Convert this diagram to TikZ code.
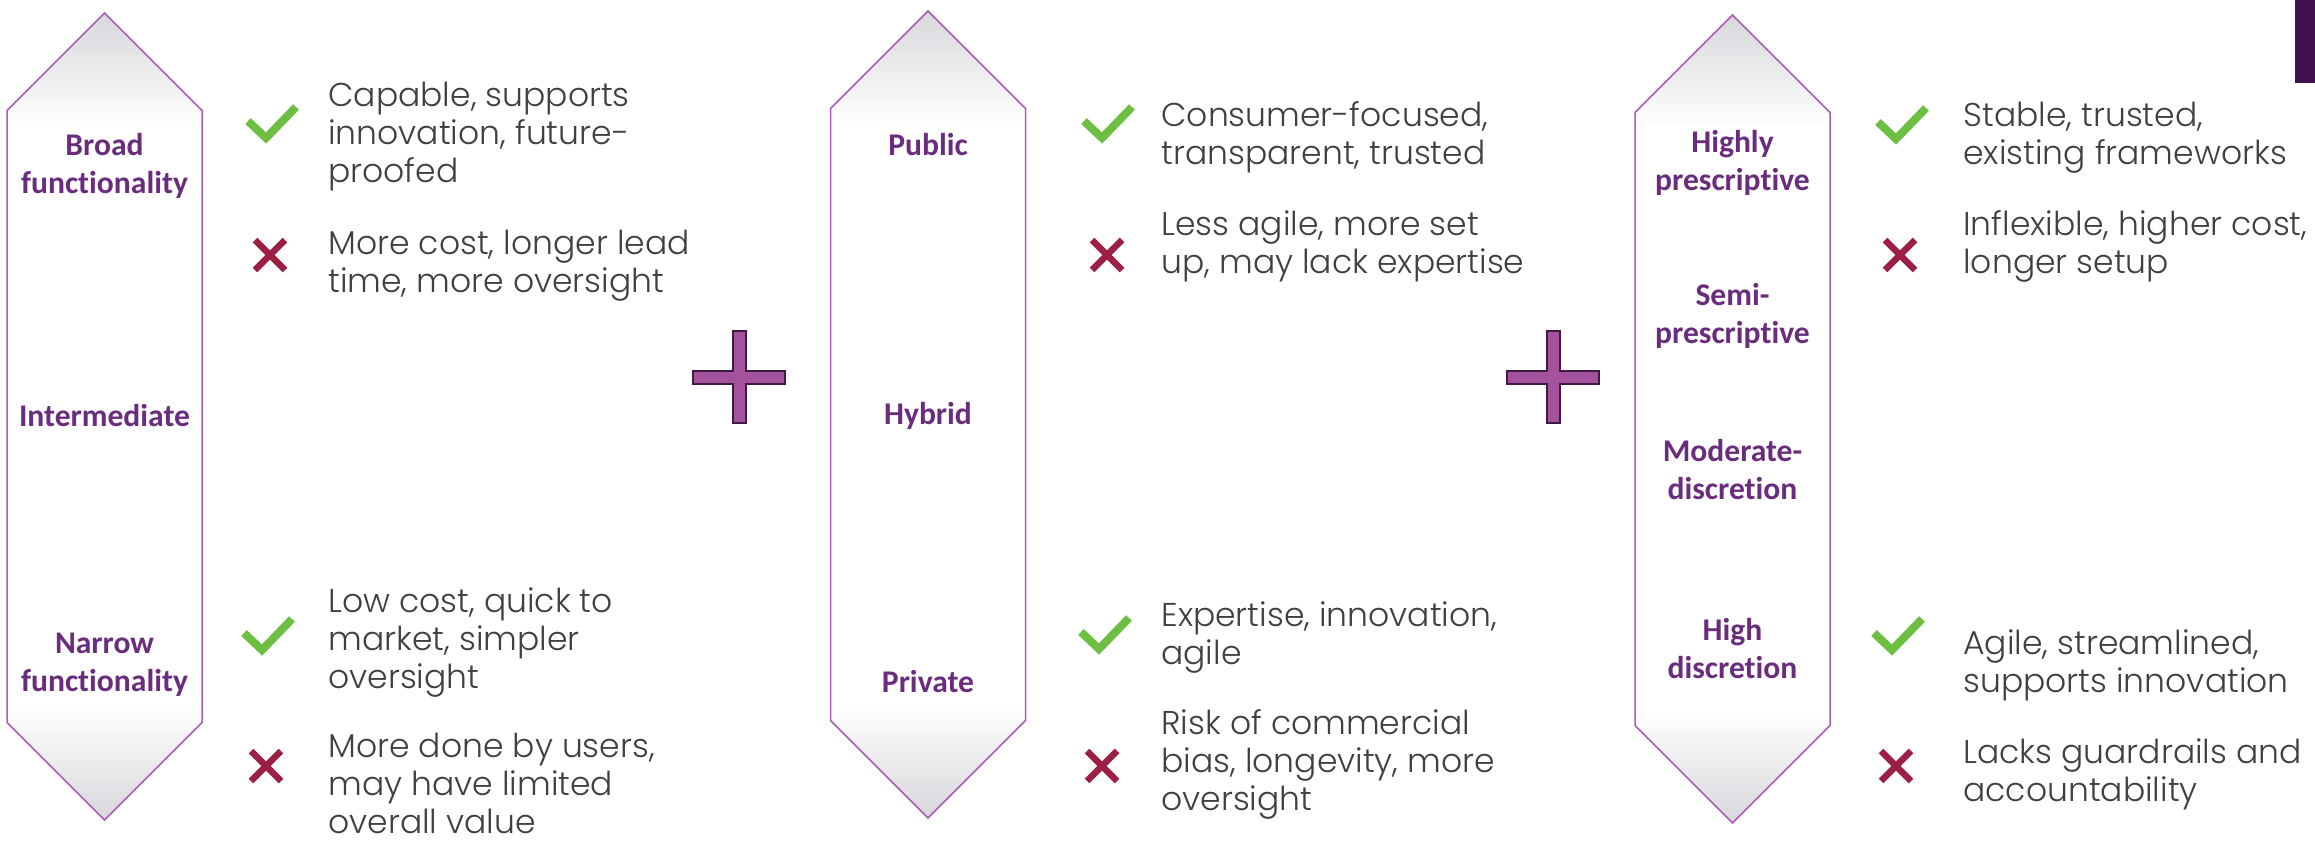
\documentclass[tikz,border=0pt]{standalone}
\usepackage{fontspec}
\setmainfont{Poppins}[UprightFont=* Light]
\newfontfamily\labelfont{Carlito}[Ligatures=NoCommon]
\definecolor{textgray}{HTML}{404040}
\definecolor{labelpurple}{HTML}{6A2C7C}
\definecolor{shapeline}{HTML}{A95DB5}
\definecolor{okgreen}{HTML}{6CBF40}
\definecolor{nored}{HTML}{9C1F44}
\definecolor{fadegray}{HTML}{D7D7DC}
\definecolor{plusfill}{HTML}{A4529E}
\definecolor{plusline}{HTML}{3F1A42}
\definecolor{barpurple}{HTML}{40104F}
\pgfdeclareverticalshading{arrowfade}{100bp}{color(0bp)=(fadegray); color(25bp)=(fadegray);
  color(32bp)=(white); color(68bp)=(white); color(75bp)=(fadegray); color(100bp)=(fadegray)}
\tikzset{
  gaugelabel/.style={font=\labelfont\bfseries\fontsize{15.8}{19}\selectfont, text=labelpurple, align=center, inner sep=0pt},
  prostext/.style={font=\fontsize{16.5}{19}\selectfont, text=textgray, align=left, anchor=base west, inner sep=0pt},
  okmark/.pic={\draw[okgreen, line width=4pt] (-18,-17) -- (0,0) -- (30,-31);},
  nomark/.pic={\draw[nored, line width=3.25pt] (-15,-15) -- (15,15) (-15,15) -- (15,-15);}
}
\begin{document}
\begin{tikzpicture}[x=0.5pt, y=-0.5pt]
  \useasboundingbox (0,0) rectangle (2315,841);
  % the three scales
  \foreach \cx/\ty/\by in {104.5/13/820, 928/11/818, 1732.5/15/823}
    \shadedraw[shading=arrowfade, draw=shapeline, line width=0.75pt]
      (\cx,\ty) -- (\cx+97.5,\ty+97.5) -- (\cx+97.5,\by-97.5) -- (\cx,\by)
      -- (\cx-97.5,\by-97.5) -- (\cx-97.5,\ty+97.5) -- cycle;
  % plus signs between them
  \foreach \px in {739, 1553}
    \filldraw[fill=plusfill, draw=plusline, line width=1pt]
      (\px-6.5,331) -- (\px+6.5,331) -- (\px+6.5,370.5) -- (\px+46,370.5) -- (\px+46,383.5)
      -- (\px+6.5,383.5) -- (\px+6.5,423) -- (\px-6.5,423) -- (\px-6.5,383.5)
      -- (\px-46,383.5) -- (\px-46,370.5) -- (\px-6.5,370.5) -- cycle;
  \fill[barpurple] (2295,0) rectangle (2315,83);

  % scale labels
  \node[gaugelabel] (broad) at (104.5,166) {Broad\\functionality};
  \node[gaugelabel] (inter) at (104.5,416) {Intermediate};
  \node[gaugelabel] (narrow) at (104.5,665) {Narrow\\functionality};
  \node[gaugelabel] (public) at (928,145) {Public};
  \node[gaugelabel] (hybrid) at (928,416) {Hybrid};
  \node[gaugelabel] (private) at (928,682) {Private};
  \node[gaugelabel] (highly) at (1732.5,163) {Highly\\prescriptive};
  \node[gaugelabel] (semi) at (1732.5,316) {Semi-\\prescriptive};
  \node[gaugelabel] (moderate) at (1732.5,470) {Moderate-\\discretion};
  \node[gaugelabel] (high) at (1732.5,649) {High\\discretion};

  % pros and cons (placed at the baseline of their last line)
  \pic at (266,138) {okmark};
  \node[prostext] (broadpro) at (328,182) {Capable, supports\\innovation, future-\\proofed};
  \pic at (270,255) {nomark};
  \node[prostext] (broadcon) at (328,292) {More cost, longer lead\\time, more oversight};
  \pic at (262,650) {okmark};
  \node[prostext] (narrowpro) at (328,688) {Low cost, quick to\\market, simpler\\oversight};
  \pic at (266,766) {nomark};
  \node[prostext] (narrowcon) at (328,833) {More done by users,\\may have limited\\overall value};

  \pic at (1102,138) {okmark};
  \node[prostext] (publicpro) at (1161,164) {Consumer-focused,\\transparent, trusted};
  \pic at (1107,255) {nomark};
  \node[prostext] (publiccon) at (1161,273) {Less agile, more set\\up, may lack expertise};
  \pic at (1099,649) {okmark};
  \node[prostext] (privatepro) at (1161,664) {Expertise, innovation,\\agile};
  \pic at (1102,766) {nomark};
  \node[prostext] (privatecon) at (1161,810) {Risk of commercial\\bias, longevity, more\\oversight};

  \pic at (1896,139) {okmark};
  \node[prostext] (highlypro) at (1963,164) {Stable, trusted,\\existing frameworks};
  \pic at (1900,255) {nomark};
  \node[prostext] (highlycon) at (1963,273) {Inflexible, higher cost,\\longer setup};
  \pic at (1892,650) {okmark};
  \node[prostext] (highpro) at (1963,692) {Agile, streamlined,\\supports innovation};
  \pic at (1896,766) {nomark};
  \node[prostext] (highcon) at (1963,801) {Lacks guardrails and\\accountability};
\end{tikzpicture}
\end{document}
